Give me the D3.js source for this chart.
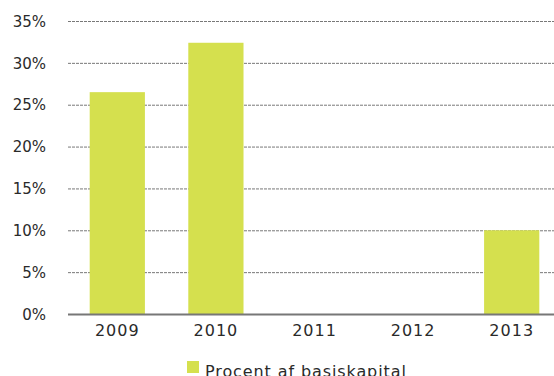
<!DOCTYPE html>
<meta charset="UTF-8">
<head>
<script src="https://d3js.org/d3.v7.min.js"></script>
<style>
  body { margin: 0; background: #fff; }
  .tick text { font: 15px "DejaVu Sans", sans-serif; fill: #2a2a2a; }
  .xaxis .tick text { font-size: 16px; letter-spacing: 1px; }
  .grid line { stroke: #555; stroke-width: 0.8px; stroke-dasharray: 3,1; }
  .legend text { font: 16px "DejaVu Sans", sans-serif; fill: #2a2a2a; letter-spacing: 0.9px; }
</style>
</head>
<body>
<div id="chart"></div>
<script>
// chart data
var years = ["2009", "2010", "2011", "2012", "2013"];
var values = [26.5, 32.4, 0, 0, 10.0];
var yTicks = [0, 5, 10, 15, 20, 25, 30, 35];
var seriesName = "Procent af basiskapital";

var width = 554, height = 376;

var svg = d3.select("#chart").append("svg")
    .attr("width", width)
    .attr("height", height);

var x = d3.scaleBand()
    .domain(years)
    .range([68, 561])
    .paddingInner(0.44)
    .paddingOuter(0.22);

var y = d3.scaleLinear()
    .domain([0, 35])
    .range([314, 21]);

// dashed grid lines
svg.append("g")
    .attr("class", "grid")
  .selectAll("line")
    .data(yTicks.filter(function(d) { return d > 0; }))
  .enter().append("line")
    .attr("x1", 68)
    .attr("x2", width)
    .attr("y1", function(d) { return y(d) + 0.5; })
    .attr("y2", function(d) { return y(d) + 0.5; });

// y axis labels
var yAxis = svg.append("g")
    .attr("transform", "translate(46,0)")
    .call(d3.axisLeft(y).tickValues(yTicks).tickSize(0).tickPadding(0)
      .tickFormat(function(d) { return d + "%"; }));
yAxis.select(".domain").remove();
yAxis.selectAll("text").attr("dy", "0.35em");

// bars
svg.append("g")
  .selectAll("rect")
    .data(values)
  .enter().append("rect")
    .attr("x", function(d, i) { return x(years[i]); })
    .attr("width", x.bandwidth())
    .attr("y", function(d) { return y(d); })
    .attr("height", function(d) { return y(0) - y(d); })
    .style("fill", "#d5e04e");

// baseline
svg.append("line")
    .attr("x1", 68).attr("x2", width)
    .attr("y1", y(0) + 0.5).attr("y2", y(0) + 0.5)
    .style("stroke", "#777")
    .style("stroke-width", 2);

// x axis labels
var xAxis = svg.append("g")
    .attr("class", "xaxis")
    .attr("transform", "translate(0," + y(0) + ")")
    .call(d3.axisBottom(x).tickSize(0).tickPadding(11));
xAxis.select(".domain").remove();

// legend
var legend = svg.append("g").attr("class", "legend");
legend.append("rect")
    .attr("x", 187).attr("y", 361)
    .attr("width", 12).attr("height", 12)
    .style("fill", "#d5e04e");
legend.append("text")
    .attr("x", 205).attr("y", 377)
    .text(seriesName);
</script>
</body>
